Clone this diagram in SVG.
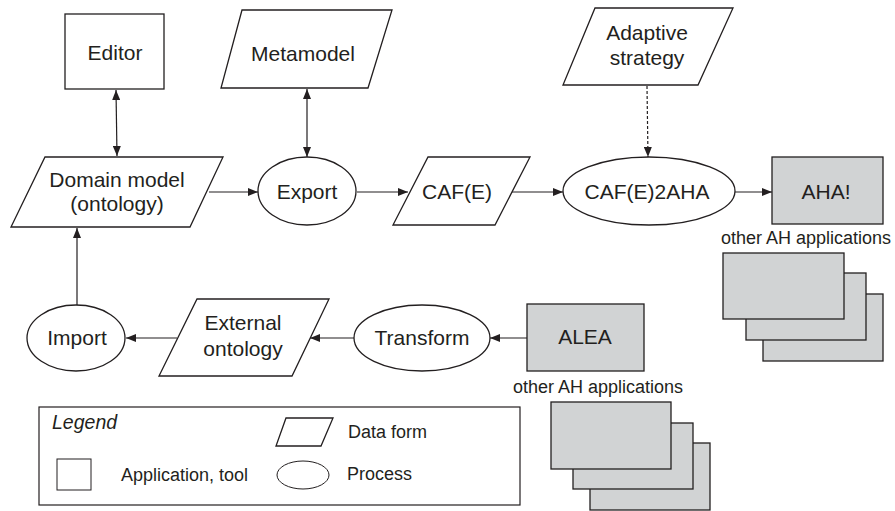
<svg xmlns="http://www.w3.org/2000/svg" width="895" height="511" viewBox="0 0 895 511">
<style>
  text { font-family: "Liberation Sans", Arial, sans-serif; fill: #231f20; }
  .t { font-size: 21px; text-anchor: middle; }
  .s { font-size: 18px; }
  .n { fill: #fff; stroke: #231f20; stroke-width: 1.3; }
  .g { fill: #d1d3d4; stroke: #231f20; stroke-width: 1.3; }
  .c { stroke: #231f20; stroke-width: 1.2; fill: none; }
</style>
<defs>
  <marker id="ah" viewBox="0 0 10 8" refX="10" refY="4" markerWidth="10" markerHeight="8" markerUnits="userSpaceOnUse" orient="auto-start-reverse">
    <path d="M0,0 L10,4 L0,8 Z" fill="#231f20"/>
  </marker>
</defs>
<rect width="895" height="511" fill="#fff"/>

<g id="connectors">
  <line class="c" x1="116" y1="90" x2="117" y2="156" marker-start="url(#ah)" marker-end="url(#ah)"/>
  <line class="c" x1="307" y1="89" x2="307" y2="157" marker-start="url(#ah)" marker-end="url(#ah)"/>
  <line class="c" x1="209" y1="192" x2="258" y2="192" marker-end="url(#ah)"/>
  <line class="c" x1="357" y1="192" x2="408" y2="192" marker-end="url(#ah)"/>
  <line class="c" x1="512" y1="192" x2="563" y2="192" marker-end="url(#ah)"/>
  <line class="c" x1="647" y1="86" x2="648" y2="157" stroke-dasharray="3,2" marker-end="url(#ah)"/>
  <line class="c" x1="735" y1="192" x2="772" y2="192" marker-end="url(#ah)"/>
  <line class="c" x1="527" y1="338" x2="490" y2="338" marker-end="url(#ah)"/>
  <line class="c" x1="354" y1="338" x2="310" y2="338" marker-end="url(#ah)"/>
  <line class="c" x1="177" y1="338" x2="126" y2="338" marker-end="url(#ah)"/>
  <line class="c" x1="77" y1="305" x2="77" y2="228" stroke="#808080" marker-end="url(#ah)"/>
</g>

<g id="editor">
  <rect class="n" x="65" y="14" width="99" height="75"/>
  <text class="t" x="115" y="60">Editor</text>
</g>
<g id="metamodel">
  <polygon class="n" points="242,10 392,10 368,88 221,88"/>
  <text class="t" x="303" y="61">Metamodel</text>
</g>
<g id="domain-model">
  <polygon class="n" points="45,157 223,157 190,227 11,227"/>
  <text class="t" x="117" y="187">Domain model</text>
  <text class="t" x="117" y="211">(ontology)</text>
</g>
<g id="export">
  <ellipse class="n" cx="307" cy="191" rx="49" ry="34"/>
  <text class="t" x="307" y="199">Export</text>
</g>
<g id="caf">
  <polygon class="n" points="428,157 530,157 495,225 393,225"/>
  <text class="t" x="457" y="199">CAF(E)</text>
</g>
<g id="adaptive-strategy">
  <polygon class="n" points="595,8 733,8 698,85 563,85"/>
  <text class="t" x="647" y="40">Adaptive</text>
  <text class="t" x="647" y="65">strategy</text>
</g>
<g id="caf2aha">
  <ellipse class="n" cx="649" cy="191" rx="86" ry="34"/>
  <text class="t" x="647" y="199">CAF(E)2AHA</text>
</g>
<g id="aha">
  <rect class="g" x="772" y="157" width="111" height="67"/>
  <text class="t" x="826" y="199">AHA!</text>
</g>
<g id="other-ah-1">
  <text class="s" x="806" y="244" text-anchor="middle">other AH applications</text>
  <rect class="g" x="763" y="294" width="120" height="67"/>
  <rect class="g" x="746" y="273" width="120" height="67"/>
  <rect class="g" x="723" y="253" width="121" height="66"/>
</g>
<g id="alea">
  <rect class="g" x="527" y="304" width="117" height="67"/>
  <text class="t" x="585" y="344">ALEA</text>
</g>
<g id="other-ah-2">
  <text class="s" x="598" y="393" text-anchor="middle">other AH applications</text>
  <rect class="g" x="590" y="443" width="120" height="67"/>
  <rect class="g" x="573" y="423" width="120" height="66"/>
  <rect class="g" x="551" y="402" width="120" height="67"/>
</g>
<g id="transform">
  <ellipse class="n" cx="422" cy="338" rx="68" ry="33"/>
  <text class="t" x="422" y="345">Transform</text>
</g>
<g id="external-ontology">
  <polygon class="n" points="197,299 329,299 292,376 159,376"/>
  <text class="t" x="243" y="330">External</text>
  <text class="t" x="243" y="356">ontology</text>
</g>
<g id="import">
  <ellipse class="n" cx="76" cy="338" rx="49" ry="33"/>
  <text class="t" x="77" y="345">Import</text>
</g>
<g id="legend">
  <rect x="39" y="407" width="481" height="98" fill="#fff" stroke="#231f20" stroke-width="1.2"/>
  <text x="52" y="429" font-size="19.5" font-style="italic">Legend</text>
  <polygon class="n" points="286,418 333,418 321,446 276,446" stroke-width="1"/>
  <text class="s" x="348" y="438">Data form</text>
  <rect x="57" y="459" width="34" height="31" fill="#fff" stroke="#231f20" stroke-width="1"/>
  <text class="s" x="121" y="481">Application, tool</text>
  <ellipse cx="303" cy="475" rx="26" ry="14" fill="#fff" stroke="#231f20" stroke-width="1"/>
  <text class="s" x="347" y="480">Process</text>
</g>
</svg>
